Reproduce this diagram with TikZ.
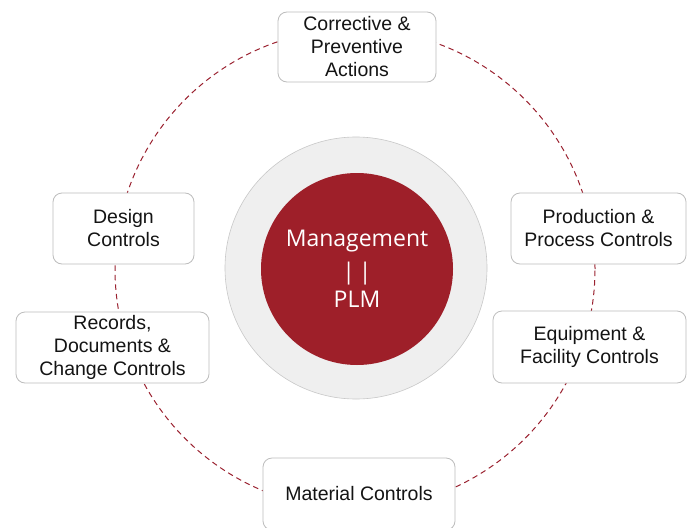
\documentclass[tikz,border=0pt]{standalone}
\usepackage{fontspec}
\setmainfont{Liberation Sans}
\newfontfamily\centerfont{Open Sans}
\definecolor{ringred}{HTML}{9B2230}
\definecolor{corered}{HTML}{9E1F29}
\definecolor{ringgray}{HTML}{EFEFEF}
\definecolor{ringedge}{HTML}{C8C8C8}
\definecolor{boxgray}{HTML}{BDBDBD}
\definecolor{textblack}{HTML}{141414}
\begin{document}
\begin{tikzpicture}[x=1pt,y=-1pt,
  box/.style={draw=boxgray, fill=white, rounded corners=9pt, line width=0.8pt,
    align=center, font=\fontsize{19.5}{23}\selectfont, text=textblack, inner sep=0pt},
  orbit/.style={draw=ringred, line width=1pt, dash pattern=on 5.5pt off 4pt},
]
\useasboundingbox (0,0) rectangle (687,527);
\fill[white] (0,0) rectangle (687,527);
\coordinate (c) at (355,269);
\draw[orbit] (c) circle[radius=240pt];
\node[circle, draw=ringedge, fill=ringgray, line width=0.6pt, minimum size=262pt, inner sep=0pt] (ring) at (356,268) {};
\node[circle, fill=corered, minimum size=192pt, inner sep=0pt, text=white, align=center,
  font=\centerfont\fontsize{23}{31}\selectfont] (core) at (357,269) {Management\\[2pt]|\,|\\[-3pt]PLM};
\node[box, minimum width=158pt, minimum height=70pt] (capa) at (357,47) {Corrective \&\\Preventive\\Actions};
\node[box, minimum width=141pt, minimum height=71pt] (design) at (123.5,228.5) {Design\\Controls};
\node[box, minimum width=193pt, minimum height=71pt] (records) at (112.5,347.5) {Records,\\Documents \&\\Change Controls};
\node[box, minimum width=175pt, minimum height=71pt] (prod) at (598.5,228.5) {Production \&\\Process Controls};
\node[box, minimum width=193pt, minimum height=72pt] (equip) at (589.5,347) {Equipment \&\\Facility Controls};
\node[box, minimum width=192pt, minimum height=72pt] (mat) at (359,494) {};
\node[font=\fontsize{19.5}{23}\selectfont, text=textblack] (matlabel) at (359,494) {Material Controls};
\end{tikzpicture}
\end{document}
